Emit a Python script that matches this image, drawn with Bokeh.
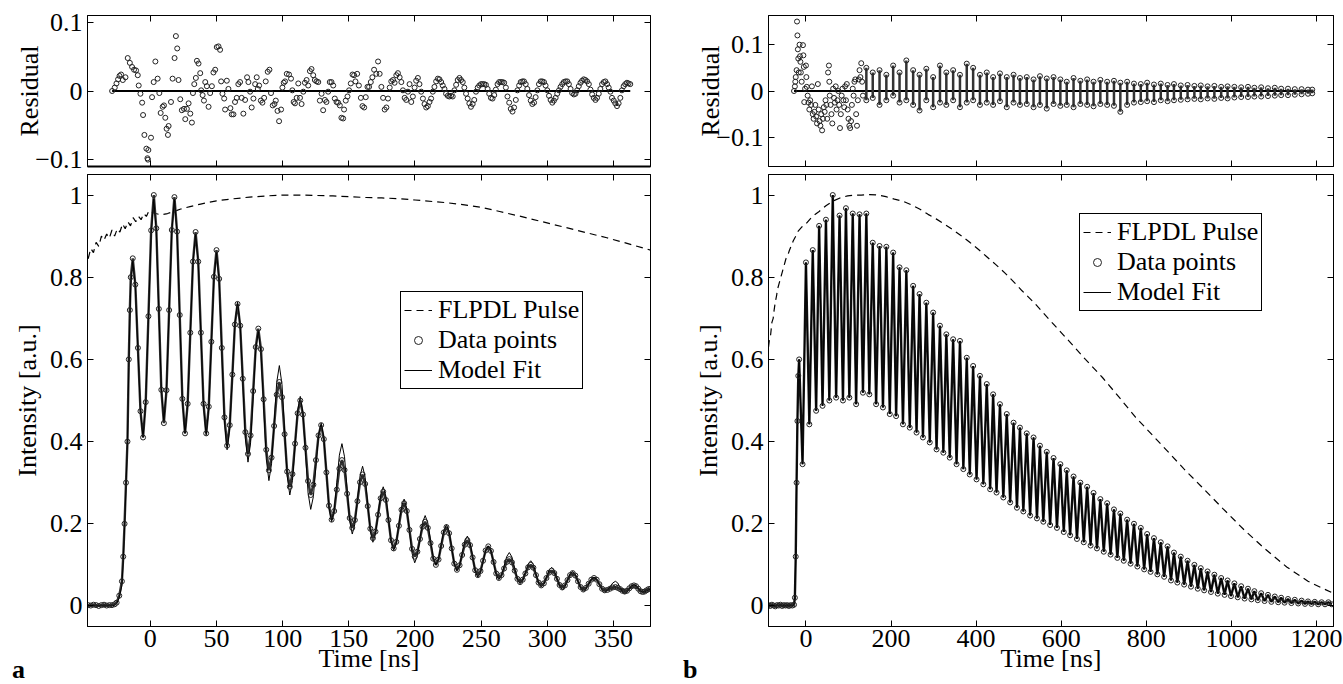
from bokeh.plotting import figure
from bokeh.layouts import row, column
from bokeh.models import Range1d, LinearAxis, FixedTicker, Legend, LegendItem, Div
from bokeh.embed import file_html
from bokeh.resources import INLINE

FONT = "Liberation Serif"
FS = "26px"
INK = "#222222"

# ====================== panel a : values ======================
a_time = [
    -47, -45, -43, -41, -39, -37, -35, -33, -31, -29, -27,
    -25.5, -23.5, -21.5, -20.5, -19.5, -18.4, -17.3, -16.3, -15.5, -14.8, -13.3,
    -11.35, -9.4, -7.45, -5.5,
    -3.5, -1.45, 0.6, 2.6,
    4.5, 6.4, 8.3, 10.2,
    12.2, 14.2, 16.2, 18.2,
    20.2, 22.2, 24.2, 26.2,
    28.2, 30.2, 32.2, 34.2,
    36.2, 38.2, 40.2, 42.2,
    44.15, 46.1, 48.05, 50.0,
    52.0, 54.0, 56.0, 58.0,
    60.0, 62.0, 63.9, 65.9,
    67.9, 69.85, 71.8, 73.8,
    75.75, 77.7, 79.65, 81.6,
    83.6, 85.6, 87.6, 89.6,
    91.6, 93.55, 95.5, 97.5,
    99.5, 101.45, 103.4, 105.4,
    107.4, 109.35, 111.3, 113.3,
    115.3, 117.25, 119.2, 121.2,
    123.2, 125.15, 127.1, 129.1,
    131.1, 133.05, 135.0, 137.0,
    138.95, 140.9, 142.85, 144.8,
    146.75, 148.7, 150.65, 152.6,
    154.55, 156.5, 158.45, 160.4,
    162.35, 164.3, 166.25, 168.2,
    170.15, 172.1, 174.05, 176.0,
    178.0, 179.95, 181.9, 183.9,
    185.9, 187.85, 189.8, 191.8,
    193.8, 195.8, 197.8, 199.8,
    201.8, 203.75, 205.7, 207.7,
    209.7, 211.75, 213.8, 215.8,
    217.8, 219.8, 221.8, 223.8,
    225.8, 227.75, 229.7, 231.7,
    233.7, 235.65, 237.6, 239.6,
    241.6, 243.55, 245.5, 247.5,
    249.5, 251.45, 253.4, 255.4,
    257.4, 259.4, 261.4, 263.4,
    265.4, 267.35, 269.3, 271.3,
    273.3, 275.35, 277.4, 279.4,
    281.4, 283.45, 285.5, 287.5,
    289.5, 291.45, 293.4, 295.4,
    297.4, 299.35, 301.3, 303.3,
    305.3, 307.3, 309.3, 311.3,
    313.3, 315.25, 317.2, 319.2,
    321.2, 323.2, 325.2, 327.2,
    329.2, 331.25, 333.3, 335.3,
    337.3, 339.35, 341.4, 343.4,
    345.4, 347.45, 349.5, 351.5,
    353.25, 355.0, 356.75, 358.5,
    360.25, 362.0, 363.75, 365.5,
    367.1, 368.75, 370.4, 372.0,
    373.5, 375.0, 376.5, 378.0,
]
a_data = [
    0.002, 0.001, 0.003, 0.002, 0.000, 0.002, 0.003, 0.001, 0.002, 0.002, 0.004,
    0.008, 0.025, 0.06, 0.12, 0.2, 0.3, 0.4, 0.6, 0.72, 0.8, 0.846,
    0.782, 0.628, 0.474, 0.41,
    0.496, 0.705, 0.914, 1.0,
    0.919, 0.723, 0.526, 0.445,
    0.525, 0.72, 0.915, 0.995,
    0.911, 0.708, 0.504, 0.42,
    0.492, 0.665, 0.838, 0.91,
    0.838, 0.665, 0.492, 0.42,
    0.485, 0.643, 0.801, 0.866,
    0.796, 0.628, 0.459, 0.39,
    0.44, 0.563, 0.685, 0.735,
    0.682, 0.553, 0.423, 0.37,
    0.415, 0.523, 0.63, 0.675,
    0.625, 0.503, 0.38, 0.33,
    0.361, 0.438, 0.514, 0.545,
    0.508, 0.418, 0.327, 0.29,
    0.321, 0.395, 0.469, 0.50,
    0.466, 0.385, 0.304, 0.27,
    0.295, 0.355, 0.415, 0.44,
    0.406, 0.325, 0.244, 0.21,
    0.231, 0.283, 0.334, 0.355,
    0.331, 0.273, 0.214, 0.19,
    0.209, 0.255, 0.301, 0.32,
    0.297, 0.243, 0.188, 0.165,
    0.181, 0.222, 0.262, 0.278,
    0.258, 0.209, 0.16, 0.14,
    0.156, 0.195, 0.234, 0.25,
    0.231, 0.185, 0.139, 0.12,
    0.132, 0.163, 0.193, 0.205,
    0.19, 0.153, 0.115, 0.10,
    0.113, 0.146, 0.179, 0.192,
    0.177, 0.14, 0.103, 0.088,
    0.099, 0.124, 0.149, 0.16,
    0.148, 0.118, 0.087, 0.075,
    0.085, 0.11, 0.135, 0.145,
    0.134, 0.107, 0.079, 0.068,
    0.075, 0.091, 0.107, 0.114,
    0.106, 0.086, 0.066, 0.058,
    0.064, 0.079, 0.094, 0.10,
    0.093, 0.075, 0.057, 0.05,
    0.055, 0.068, 0.081, 0.086,
    0.08, 0.066, 0.051, 0.045,
    0.05, 0.063, 0.075, 0.08,
    0.074, 0.06, 0.046, 0.04,
    0.044, 0.054, 0.064, 0.068,
    0.064, 0.053, 0.042, 0.038,
    0.039, 0.042, 0.045, 0.046,
    0.044, 0.041, 0.037, 0.035,
    0.037, 0.043, 0.048, 0.05,
    0.048, 0.042, 0.036, 0.034,
    0.035, 0.038, 0.041, 0.042,
]
a_fit = [
    0.0, 0.0, 0.0, 0.0, 0.0, 0.0, 0.0, 0.0, 0.0, 0.0, 0.002,
    0.006, 0.02, 0.05, 0.11, 0.19, 0.29, 0.40, 0.58, 0.70, 0.78, 0.84,
    0.777, 0.625, 0.473, 0.41,
    0.495, 0.70, 0.905, 0.99,
    0.911, 0.72, 0.529, 0.45,
    0.529, 0.72, 0.911, 0.99,
    0.907, 0.705, 0.503, 0.42,
    0.491, 0.663, 0.834, 0.905,
    0.833, 0.66, 0.487, 0.415,
    0.48, 0.638, 0.795, 0.86,
    0.79, 0.62, 0.45, 0.38,
    0.433, 0.56, 0.687, 0.74,
    0.683, 0.545, 0.407, 0.35,
    0.397, 0.51, 0.623, 0.67,
    0.617, 0.488, 0.358, 0.305,
    0.346, 0.445, 0.544, 0.585,
    0.539, 0.428, 0.316, 0.27,
    0.305, 0.39, 0.475, 0.51,
    0.47, 0.373, 0.275, 0.235,
    0.266, 0.34, 0.414, 0.445,
    0.41, 0.325, 0.24, 0.205,
    0.233, 0.30, 0.367, 0.395,
    0.363, 0.285, 0.207, 0.175,
    0.199, 0.258, 0.316, 0.34,
    0.313, 0.248, 0.182, 0.155,
    0.175, 0.223, 0.27, 0.29,
    0.267, 0.213, 0.158, 0.135,
    0.153, 0.198, 0.242, 0.26,
    0.237, 0.183, 0.128, 0.105,
    0.122, 0.163, 0.203, 0.22,
    0.202, 0.16, 0.118, 0.10,
    0.114, 0.149, 0.184, 0.198,
    0.181, 0.142, 0.102, 0.085,
    0.097, 0.128, 0.158, 0.17,
    0.155, 0.12, 0.085, 0.07,
    0.081, 0.108, 0.135, 0.146,
    0.134, 0.105, 0.076, 0.064,
    0.074, 0.097, 0.12, 0.13,
    0.119, 0.092, 0.065, 0.054,
    0.062, 0.082, 0.102, 0.11,
    0.101, 0.078, 0.055, 0.046,
    0.053, 0.07, 0.087, 0.094,
    0.086, 0.067, 0.048, 0.04,
    0.046, 0.062, 0.078, 0.084,
    0.077, 0.06, 0.043, 0.036,
    0.041, 0.053, 0.065, 0.07,
    0.065, 0.052, 0.039, 0.034,
    0.038, 0.047, 0.056, 0.06,
    0.056, 0.045, 0.034, 0.03,
    0.033, 0.041, 0.049, 0.052,
    0.049, 0.043, 0.037, 0.034,
    0.035, 0.037, 0.039, 0.04,
]
a_pulse = [
    (-47, 0.845), (-45, 0.87), (-43, 0.86), (-41, 0.885), (-39, 0.875), (-37, 0.9),
    (-35, 0.89), (-33, 0.905), (-31, 0.895), (-29, 0.915), (-27, 0.9), (-25, 0.918),
    (-23, 0.91), (-21, 0.93), (-19, 0.918), (-17, 0.935), (-15, 0.925), (-13, 0.945),
    (-11, 0.935), (-9, 0.948), (-7, 0.94), (-5, 0.955), (-3, 0.948), (-1, 0.962),
    (1, 0.958), (4, 0.955), (8, 0.952), (13, 0.955), (18, 0.96), (23, 0.966),
    (30, 0.972), (38, 0.978), (50, 0.986), (63, 0.991), (75, 0.995), (88, 0.998),
    (100, 1.0), (113, 1.0), (125, 0.999), (138, 0.998), (150, 0.996), (163, 0.994),
    (175, 0.993), (189, 0.991), (200, 0.988), (214, 0.984), (225, 0.981), (240, 0.975),
    (250, 0.97), (264, 0.96), (280, 0.948), (295, 0.936), (314, 0.921), (330, 0.908),
    (345, 0.896), (364, 0.879), (378, 0.866),
]
a_residual = [
    (-28.9, 0.0), (-26.9, 0.005), (-25.6, 0.011), (-24.4, 0.017), (-23.3, 0.022),
    (-22.1, 0.024), (-20.8, 0.016), (-18.8, 0.020), (-17.1, 0.048), (-15.5, 0.041),
    (-13.8, 0.035), (-12.3, 0.031), (-10.8, 0.030), (-9.5, 0.023), (-8.8, 0.008),
    (-7.5, -0.004), (-6.2, -0.017), (-5.5, -0.035), (-4.5, -0.064), (-3.0, -0.084),
    (-2.2, -0.098), (-1.8, -0.100), (-1.5, -0.086), (0.5, -0.068), (1.3, -0.009),
    (2.5, 0.013), (3.8, 0.043), (5.5, 0.018), (6.8, -0.003), (7.8, -0.032),
    (9.3, -0.023), (10.3, -0.021), (11.3, -0.039), (12.3, -0.055), (13.3, -0.064),
    (13.8, -0.051), (15.6, -0.016), (16.8, 0.018), (18.3, 0.048), (19.3, 0.080),
    (20.3, 0.062), (21.3, 0.016), (22.6, -0.012), (23.8, -0.028), (25.4, -0.026),
    (26.4, -0.041), (27.6, -0.026), (28.9, -0.018), (30.2, -0.033), (31.4, -0.046),
    (32.2, -0.003), (33.2, 0.010), (34.4, 0.019), (35.2, 0.044), (36.4, 0.040),
    (37.7, 0.026), (38.4, 0.001), (39.5, -0.006), (40.5, -0.014), (41.5, 0.013),
    (42.7, 0.007), (44.0, -0.023), (45.2, -0.003), (46.5, 0.007), (47.7, 0.027),
    (49.0, 0.031), (50.2, 0.064), (51.5, 0.065), (52.7, 0.060), (53.5, 0.014),
    (54.5, -0.004), (55.8, -0.011), (56.5, -0.027), (57.8, 0.015), (59.0, 0.003),
    (60.5, -0.025), (61.5, -0.034), (62.8, -0.034), (64.0, -0.016), (65.3, -0.010),
    (66.5, 0.010), (67.8, 0.013), (69.0, -0.010), (70.3, -0.033), (71.6, -0.013),
    (73.1, 0.020), (74.1, 0.013), (75.4, -0.001), (76.6, -0.024), (77.9, -0.011),
    (79.2, 0.010), (80.4, 0.020), (81.2, 0.003), (82.2, 0.008), (83.5, -0.014),
    (84.7, -0.017), (86.0, -0.010), (87.2, 0.014), (88.7, 0.028), (90.0, 0.031),
    (91.2, -0.003), (92.5, -0.021), (93.8, -0.019), (94.8, -0.014), (96.1, -0.029),
    (97.3, -0.044), (98.8, -0.027), (99.8, 0.005), (100.8, 0.012), (101.8, 0.014),
    (103.1, 0.025), (104.8, 0.024), (106.3, 0.018), (107.3, 0.001), (108.3, -0.016),
    (109.3, -0.018), (110.6, -0.010), (111.8, 0.011), (113.1, -0.010), (114.3, -0.019),
    (115.6, -0.001), (116.8, 0.012), (118.1, 0.016), (119.3, 0.008), (120.6, 0.029),
    (121.8, 0.032), (123.1, 0.023), (124.3, 0.016), (125.6, 0.014), (126.9, 0.013),
    (128.1, -0.014), (129.4, -0.004), (130.6, -0.028), (131.9, -0.013), (133.1, -0.016),
    (134.4, -0.001), (135.6, 0.013), (136.9, 0.013), (138.2, 0.008), (139.4, -0.011),
    (140.7, -0.016), (141.9, -0.017), (143.2, -0.021), (144.4, -0.039), (145.7, -0.040),
    (146.4, -0.027), (147.7, -0.014), (149.0, -0.008), (150.2, 0.001), (151.5, 0.011),
    (152.8, 0.024), (154.0, 0.023), (155.0, 0.014), (156.3, 0.025), (157.6, 0.008),
    (159.1, -0.010), (160.3, -0.022), (161.6, -0.024), (162.8, -0.009), (164.1, 0.006),
    (165.3, 0.006), (166.6, 0.013), (167.8, 0.020), (169.1, 0.031), (170.8, 0.025),
    (172.1, 0.043), (173.3, 0.025), (174.6, 0.006), (175.9, -0.010), (177.1, -0.027),
    (178.4, -0.024), (179.6, -0.011), (180.9, 0.005), (182.1, 0.014), (183.4, 0.016),
    (184.6, 0.012), (185.9, 0.023), (187.1, 0.026), (188.4, 0.020), (189.7, 0.013),
    (190.9, 0.001), (192.2, -0.010), (193.4, -0.013), (194.7, -0.001), (195.9, 0.010),
    (197.2, -0.016), (198.4, -0.008), (199.7, 0.005), (200.9, 0.015), (202.2, 0.019),
    (203.4, 0.010), (204.7, -0.001), (206.0, -0.011), (207.2, -0.019), (208.5, -0.024),
    (209.7, -0.022), (211.0, -0.016), (212.2, -0.011), (213.5, -0.001), (214.7, 0.006),
    (216.0, 0.014), (217.3, 0.018), (218.5, 0.017), (219.8, 0.013), (221.0, 0.008),
    (222.3, 0.003), (223.5, -0.004), (224.8, -0.007), (226.0, -0.008), (227.3, -0.007),
    (228.5, -0.008), (229.8, 0.001), (231.1, 0.009), (232.3, 0.016), (233.6, 0.019),
    (234.8, 0.016), (236.1, 0.013), (237.3, 0.005), (238.6, -0.004), (239.8, -0.011),
    (241.1, -0.018), (242.3, -0.023), (243.6, -0.019), (244.8, -0.013), (246.1, -0.001),
    (247.4, 0.005), (248.6, 0.008), (249.9, 0.010), (251.1, 0.010), (252.4, 0.010),
    (253.6, 0.009), (254.9, 0.003), (256.1, -0.004), (257.4, -0.010), (258.6, -0.011),
    (259.9, -0.006), (261.1, 0.002), (262.4, 0.010), (263.6, 0.013), (264.9, 0.013),
    (266.2, 0.013), (267.4, 0.012), (268.7, 0.005), (269.9, -0.008), (271.2, -0.017),
    (272.4, -0.026), (273.7, -0.030), (274.9, -0.024), (276.2, -0.013), (277.4, 0.001),
    (278.7, 0.008), (279.9, 0.013), (281.2, 0.014), (282.4, 0.014), (283.7, 0.010),
    (284.9, 0.003), (286.2, -0.006), (287.5, -0.014), (288.7, -0.019), (290.0, -0.017),
    (291.2, -0.009), (292.5, 0.001), (293.7, 0.010), (295.0, 0.014), (296.2, 0.014),
    (297.5, 0.013), (298.7, 0.008), (300.0, 0.001), (301.3, -0.007), (302.5, -0.013),
    (303.8, -0.017), (305.0, -0.014), (306.3, -0.010), (307.5, -0.004), (308.8, 0.001),
    (310.0, 0.006), (311.3, 0.010), (312.5, 0.013), (313.8, 0.014), (315.1, 0.014),
    (316.3, 0.010), (317.6, 0.003), (318.8, -0.003), (320.1, -0.005), (321.3, -0.004),
    (322.6, 0.001), (323.8, 0.007), (325.1, 0.012), (326.3, 0.015), (327.6, 0.017),
    (328.8, 0.016), (330.1, 0.014), (331.4, 0.010), (332.6, 0.002), (333.9, -0.005),
    (335.1, -0.010), (336.4, -0.013), (337.6, -0.010), (338.9, -0.004), (340.1, 0.003),
    (341.4, 0.010), (342.7, 0.013), (343.9, 0.014), (345.2, 0.010), (346.4, 0.005),
    (347.7, -0.001), (348.9, -0.010), (350.2, -0.014), (351.4, -0.018), (352.7, -0.022),
    (353.9, -0.018), (355.2, -0.010), (356.4, 0.001), (357.7, 0.007), (358.9, 0.010),
    (360.2, 0.012), (361.4, 0.011), (362.7, 0.010),
]

# ====================== panel b : values ======================
b_baseline = [
    (-88, 0.002), (-84, 0.0), (-80, 0.003), (-76, 0.001), (-72, -0.001), (-68, 0.002),
    (-64, 0.001), (-60, 0.003), (-56, 0.0), (-52, 0.002), (-48, 0.001), (-44, 0.002),
    (-40, 0.0), (-36, 0.002), (-32, 0.001), (-28, 0.003),
]
b_rise = [(-26, 0.02), (-24, 0.12), (-22, 0.3), (-20, 0.45), (-18, 0.56)]
b_peaks = [
    (-16, 0.60), (0, 0.836), (16, 0.866), (31, 0.925), (47, 0.94), (63, 1.0),
    (79, 0.95), (94, 0.968), (110, 0.955), (126, 0.953), (142, 0.955), (157, 0.884),
    (173, 0.876), (189, 0.874), (205, 0.86), (220, 0.824), (236, 0.817), (252, 0.779),
    (267, 0.759), (283, 0.738), (299, 0.714), (315, 0.682), (330, 0.661), (346, 0.649),
    (362, 0.645), (378, 0.604), (393, 0.584), (409, 0.56), (425, 0.54), (440, 0.515),
    (456, 0.491), (472, 0.467), (488, 0.446), (503, 0.434), (519, 0.42), (535, 0.41),
    (550, 0.39), (566, 0.375), (582, 0.36), (598, 0.345), (613, 0.33), (629, 0.315),
    (645, 0.30), (661, 0.29), (676, 0.275), (692, 0.26), (708, 0.25), (724, 0.235),
    (739, 0.225), (755, 0.21), (771, 0.20), (787, 0.19), (802, 0.175), (818, 0.165),
    (834, 0.155), (850, 0.145), (865, 0.13), (881, 0.12), (897, 0.11), (913, 0.10),
    (928, 0.092), (944, 0.084), (960, 0.076), (976, 0.068), (991, 0.062), (1007, 0.055),
    (1023, 0.048), (1039, 0.042), (1054, 0.036), (1070, 0.031), (1086, 0.027), (1102, 0.023),
    (1117, 0.02), (1133, 0.017), (1149, 0.015), (1165, 0.013), (1180, 0.011), (1196, 0.01),
    (1212, 0.009), (1228, 0.009),
]
b_troughs = [
    (-8, 0.345), (8, 0.442), (24, 0.475), (39, 0.487), (55, 0.50), (71, 0.507),
    (87, 0.50), (102, 0.507), (118, 0.491), (134, 0.519), (149, 0.515), (165, 0.491),
    (181, 0.483), (197, 0.467), (212, 0.462), (228, 0.442), (244, 0.434), (260, 0.422),
    (275, 0.41), (291, 0.398), (307, 0.381), (323, 0.373), (338, 0.361), (354, 0.345),
    (370, 0.333), (385, 0.32), (401, 0.308), (417, 0.296), (433, 0.284), (448, 0.276),
    (464, 0.264), (480, 0.252), (496, 0.239), (511, 0.23), (527, 0.22), (543, 0.213),
    (558, 0.205), (574, 0.197), (590, 0.19), (606, 0.18), (621, 0.172), (637, 0.163),
    (653, 0.155), (669, 0.147), (684, 0.14), (700, 0.132), (716, 0.125), (732, 0.117),
    (747, 0.11), (763, 0.103), (779, 0.096), (795, 0.089), (810, 0.083), (826, 0.077),
    (842, 0.071), (858, 0.062), (873, 0.057), (889, 0.052), (905, 0.047), (921, 0.042),
    (936, 0.038), (952, 0.034), (968, 0.03), (984, 0.027), (999, 0.024), (1015, 0.021),
    (1031, 0.018), (1047, 0.016), (1062, 0.014), (1078, 0.012), (1094, 0.01), (1110, 0.009),
    (1125, 0.008), (1141, 0.007), (1157, 0.006), (1173, 0.005), (1188, 0.005), (1204, 0.004),
    (1220, 0.004), (1236, 0.004),
]
b_pulse = [
    (-88, 0.63), (-85, 0.655), (-83, 0.66), (-80, 0.69), (-77, 0.70), (-75, 0.718),
    (-72, 0.74), (-69, 0.755), (-67, 0.77), (-63, 0.785), (-59, 0.80), (-55, 0.815),
    (-51, 0.83), (-47, 0.845), (-43, 0.852), (-39, 0.865), (-35, 0.875), (-30, 0.888),
    (-25, 0.898), (-20, 0.91), (-10, 0.922), (0, 0.93), (15, 0.948), (31, 0.96),
    (47, 0.974), (63, 0.985), (80, 0.993), (98, 0.998), (115, 1.0), (130, 1.0),
    (150, 1.001), (169, 1.0), (188, 0.996), (208, 0.99), (228, 0.985), (248, 0.976),
    (267, 0.966), (287, 0.953), (306, 0.942), (326, 0.929), (346, 0.915), (366, 0.90),
    (385, 0.885), (405, 0.868), (425, 0.85), (445, 0.832), (468, 0.81), (490, 0.787),
    (508, 0.767), (539, 0.735), (578, 0.69), (618, 0.645), (657, 0.60), (697, 0.556),
    (736, 0.508), (775, 0.459), (815, 0.415), (854, 0.372), (889, 0.333), (930, 0.29),
    (980, 0.237), (1030, 0.185), (1080, 0.138), (1130, 0.095), (1180, 0.06), (1210, 0.045),
    (1235, 0.033),
]
b_res_scatter = [
    (-28, 0.0), (-26, 0.01), (-25, 0.02), (-24, 0.03), (-22, 0.045), (-21, 0.15),
    (-20, 0.12), (-19, 0.09), (-18, 0.07), (-17, 0.04), (-15, 0.1), (-14, 0.075),
    (-13, 0.063), (-12, 0.04), (-10, 0.02), (-7, 0.099), (-6, 0.077), (-5, 0.052),
    (-4, -0.024), (-2, 0.005), (0, 0.055), (1, 0.03), (2, 0.009), (4, -0.01),
    (6, -0.025), (8, -0.04), (10, -0.02), (12, -0.03), (14, 0.01), (16, -0.05),
    (18, -0.06), (20, -0.045), (22, -0.03), (24, -0.055), (26, -0.07), (28, 0.015),
    (30, -0.04), (32, -0.065), (34, -0.075), (36, -0.05), (38, -0.085), (40, -0.06),
    (42, -0.035), (44, -0.045), (46, -0.02), (48, -0.03), (50, -0.06), (52, 0.04),
    (54, 0.055), (55, 0.02), (56, -0.01), (58, -0.03), (60, -0.05), (62, -0.07),
    (64, 0.005), (66, -0.015), (68, -0.025), (70, 0.01), (72, -0.04), (74, -0.02),
    (76, 0.0), (78, -0.03), (80, -0.08), (82, -0.05), (84, -0.01), (86, 0.005),
    (88, -0.02), (90, -0.035), (92, 0.01), (94, -0.02), (96, 0.015), (98, -0.04),
    (100, -0.06), (102, -0.075), (104, -0.08), (106, -0.065), (108, -0.03), (110, 0.005),
    (112, -0.01), (114, 0.02), (116, 0.025), (118, -0.05), (120, -0.075), (122, -0.02),
    (124, 0.025), (126, 0.045), (128, 0.03), (130, 0.06), (132, 0.02), (134, -0.01),
]
b_res_columns = [
    (142, 0.05, -0.02), (157, 0.04, -0.015), (173, 0.045, -0.03), (189, 0.035, -0.02),
    (205, 0.055, -0.01), (220, 0.04, -0.025), (236, 0.066, -0.02), (252, 0.045, -0.03),
    (267, 0.035, -0.042), (283, 0.048, -0.02), (299, 0.03, -0.035), (315, 0.055, -0.025),
    (330, 0.04, -0.03), (346, 0.045, -0.02), (362, 0.035, -0.035), (378, 0.059, -0.025),
    (393, 0.05, -0.02), (409, 0.035, -0.03), (425, 0.04, -0.025), (440, 0.03, -0.03),
    (456, 0.038, -0.022), (472, 0.03, -0.035), (488, 0.035, -0.025), (503, 0.028, -0.03),
    (519, 0.03, -0.028), (535, 0.025, -0.035), (550, 0.032, -0.03), (566, 0.027, -0.038),
    (582, 0.03, -0.028), (598, 0.025, -0.032), (613, 0.02, -0.03), (629, 0.028, -0.035),
    (645, 0.022, -0.028), (661, 0.025, -0.03), (676, 0.02, -0.033), (692, 0.024, -0.028),
    (708, 0.02, -0.03), (724, 0.022, -0.032), (739, 0.018, -0.045), (755, 0.02, -0.03),
    (771, 0.016, -0.025), (787, 0.015, -0.024), (802, 0.018, -0.022), (818, 0.014, -0.024),
    (834, 0.016, -0.02), (850, 0.013, -0.022), (865, 0.015, -0.02), (881, 0.012, -0.019),
    (897, 0.013, -0.018), (913, 0.011, -0.017), (928, 0.012, -0.018), (944, 0.01, -0.016),
    (960, 0.011, -0.017), (976, 0.009, -0.015), (991, 0.01, -0.016), (1007, 0.009, -0.014),
    (1023, 0.008, -0.013), (1039, 0.009, -0.013), (1054, 0.007, -0.012), (1070, 0.008, -0.012),
    (1086, 0.006, -0.011), (1102, 0.007, -0.01), (1117, 0.005, -0.009), (1133, 0.005, -0.009),
    (1149, 0.004, -0.008), (1165, 0.004, -0.007), (1180, 0.003, -0.006), (1190, 0.003, -0.005),
]

# ticks / labels
a_xticks = [0, 50, 100, 150, 200, 250, 300, 350]
b_xticks = [0, 200, 400, 600, 800, 1000, 1200]
main_yticks = [0, 0.2, 0.4, 0.6, 0.8, 1]
main_ylabels = {0: "0", 0.2: "0.2", 0.4: "0.4", 0.6: "0.6", 0.8: "0.8", 1: "1"}
res_yticks = [-0.1, 0, 0.1]
res_ylabels = {-0.1: "\u22120.1", 0: "0", 0.1: "0.1"}
panel_letters = ["a", "b"]

assert len(a_time) == len(a_data) == len(a_fit)
assert len(b_peaks) == len(b_troughs)


# ====================== helpers ======================
def base_fig(xr, yr, fw, fh, lb, rb, tb, bb):
    p = figure(x_range=Range1d(*xr), y_range=Range1d(*yr),
               frame_width=fw, frame_height=fh,
               min_border_left=lb, min_border_right=rb,
               min_border_top=tb, min_border_bottom=bb,
               x_axis_location=None, y_axis_location=None,
               toolbar_location=None, output_backend="svg",
               background_fill_color="white", border_fill_color="white")
    p.outline_line_color = "black"
    p.outline_line_width = 1
    p.xgrid.visible = False
    p.ygrid.visible = False
    return p


def add_axis(p, side, ticks, show_labels=False, overrides=None, title=None,
             title_standoff=0, label_standoff=5, line_width=1):
    ax = LinearAxis(ticker=FixedTicker(ticks=ticks))
    ax.major_tick_in = 6
    ax.major_tick_out = 0
    ax.minor_tick_line_color = None
    ax.axis_line_color = "black"
    ax.axis_line_width = line_width
    ax.major_tick_line_color = "black"
    ax.major_label_text_font = FONT
    ax.major_label_text_color = "black"
    if show_labels:
        ax.major_label_text_font_size = FS
        ax.major_label_standoff = label_standoff
        if overrides:
            ax.major_label_overrides = overrides
    else:
        # mirrored tick marks only (MATLAB "box on" look)
        ax.major_label_text_font_size = "1px"
        ax.major_label_overrides = {t: "" for t in ticks}
        ax.major_label_standoff = 0
    if title:
        ax.axis_label = title
        ax.axis_label_text_font = FONT
        ax.axis_label_text_font_size = FS
        ax.axis_label_text_font_style = "normal"
        ax.axis_label_text_color = "black"
        ax.axis_label_standoff = title_standoff
    p.add_layout(ax, side)
    return ax


def add_legend(p, r_pulse, r_data, r_fit, loc):
    leg = Legend(items=[LegendItem(label="FLPDL Pulse", renderers=[r_pulse]),
                        LegendItem(label="Data points", renderers=[r_data]),
                        LegendItem(label="Model Fit", renderers=[r_fit])],
                 location=loc)
    leg.border_line_color = "black"
    leg.border_line_width = 1
    leg.border_line_alpha = 1
    leg.background_fill_color = "white"
    leg.background_fill_alpha = 1
    leg.label_text_font = FONT
    leg.label_text_font_size = FS
    leg.label_text_color = "black"
    leg.glyph_width = 28
    leg.glyph_height = 20
    leg.label_standoff = 6
    leg.label_height = 26
    leg.spacing = 0
    leg.padding = 3
    leg.margin = 0
    p.add_layout(leg)


def letter_div(text, left):
    html = ("<span style=\"font-family:'Liberation Serif',serif;font-size:26px;"
            "font-weight:bold;line-height:22px;color:#000\">%s</span>" % text)
    return Div(text=html, width=20, height=22, margin=0,
               styles={"position": "absolute", "left": "%dpx" % left, "top": "659px",
                       "line-height": "22px", "z-index": "10"})


LB = 87
TB_RES, FH_RES, BB_RES = 15, 151, 8
TB_MAIN, FH_MAIN, BB_MAIN = 0, 452, 58
MAIN_Y = (-0.05, 1.05)

# ====================== panel a ======================
A_X = (-47.5, 378)
ra = base_fig(A_X, (-0.11, 0.11), 563, FH_RES, LB, 31, TB_RES, BB_RES)
add_axis(ra, "left", res_yticks, True, res_ylabels, "Residual", title_standoff=-12)
add_axis(ra, "right", res_yticks)
add_axis(ra, "below", a_xticks, line_width=2)
add_axis(ra, "above", a_xticks)
ra_t = [t for t, v in a_residual]
ra_v = [v for t, v in a_residual]
ra.line([ra_t[0], ra_t[-1]], [0, 0], line_color="black", line_width=2)
ra.scatter(ra_t, ra_v, marker="circle", size=5, line_color=INK, fill_color=None, line_width=1)

ma = base_fig(A_X, MAIN_Y, 563, FH_MAIN, LB, 31, TB_MAIN, BB_MAIN)
add_axis(ma, "left", main_yticks, True, main_ylabels, "Intensity [a.u.]", title_standoff=5)
add_axis(ma, "right", main_yticks)
add_axis(ma, "below", a_xticks, True, None, "Time [ns]", title_standoff=-6, label_standoff=3)
add_axis(ma, "above", a_xticks)
rpa = ma.line([t for t, v in a_pulse], [v for t, v in a_pulse],
              line_color="black", line_width=1.2, line_dash="7 5")
ma.line(a_time, a_data, line_color="#333333", line_width=2.4)
rfa = ma.line(a_time, a_fit, line_color="black", line_width=1)
rda = ma.scatter(a_time, a_data, marker="circle", size=5, line_color=INK,
                 fill_color=None, line_width=1)
add_legend(ma, rpa, rda, rfa, (313, 237))

# ====================== panel b ======================
B_X = (-88, 1240)
rb_ = base_fig(B_X, (-0.163, 0.163), 565, FH_RES, LB, 10, TB_RES, BB_RES)
add_axis(rb_, "left", res_yticks, True, res_ylabels, "Residual", title_standoff=-12)
add_axis(rb_, "right", res_yticks)
add_axis(rb_, "below", b_xticks)
add_axis(rb_, "above", b_xticks)
rbt = [t for t, v in b_res_scatter] + [c[0] for c in b_res_columns]
rb_.line([rbt[0], rbt[-1]], [0, 0], line_color="black", line_width=2)
rb_.segment(x0=[c[0] for c in b_res_columns], y0=[c[2] for c in b_res_columns],
            x1=[c[0] for c in b_res_columns], y1=[c[1] for c in b_res_columns],
            line_color="#333333", line_width=2.5)
rb_.scatter([c[0] for c in b_res_columns] * 2,
            [c[1] for c in b_res_columns] + [c[2] for c in b_res_columns],
            marker="circle", size=5, line_color=INK, fill_color=None, line_width=1)
rb_.scatter([t for t, v in b_res_scatter], [v for t, v in b_res_scatter],
            marker="circle", size=5, line_color=INK, fill_color=None, line_width=1)

b_seq = list(b_baseline) + list(b_rise)
for pk, tr in zip(b_peaks, b_troughs):
    b_seq += [pk, tr]
b_t = [t for t, v in b_seq]
b_v = [v for t, v in b_seq]

mb = base_fig(B_X, MAIN_Y, 565, FH_MAIN, LB, 10, TB_MAIN, BB_MAIN)
add_axis(mb, "left", main_yticks, True, main_ylabels, "Intensity [a.u.]", title_standoff=5)
add_axis(mb, "right", main_yticks)
add_axis(mb, "below", b_xticks, True, None, "Time [ns]", title_standoff=-6, label_standoff=3)
add_axis(mb, "above", b_xticks)
rpb = mb.line([t for t, v in b_pulse], [v for t, v in b_pulse],
              line_color="black", line_width=1.2, line_dash="7 5")
mb.line(b_t, b_v, line_color="#1a1a1a", line_width=2.4)
rfb = mb.line(b_t, b_v, line_color="black", line_width=1)
rdb = mb.scatter(b_t, b_v, marker="circle", size=5, line_color=INK,
                 fill_color=None, line_width=1)
add_legend(mb, rpb, rdb, rfb, (311, 315))

layout = row(column(ra, ma), column(rb_, mb),
             letter_div(panel_letters[0], 12), letter_div(panel_letters[1], 683))
open("out.html", "w").write(file_html(layout, INLINE))
